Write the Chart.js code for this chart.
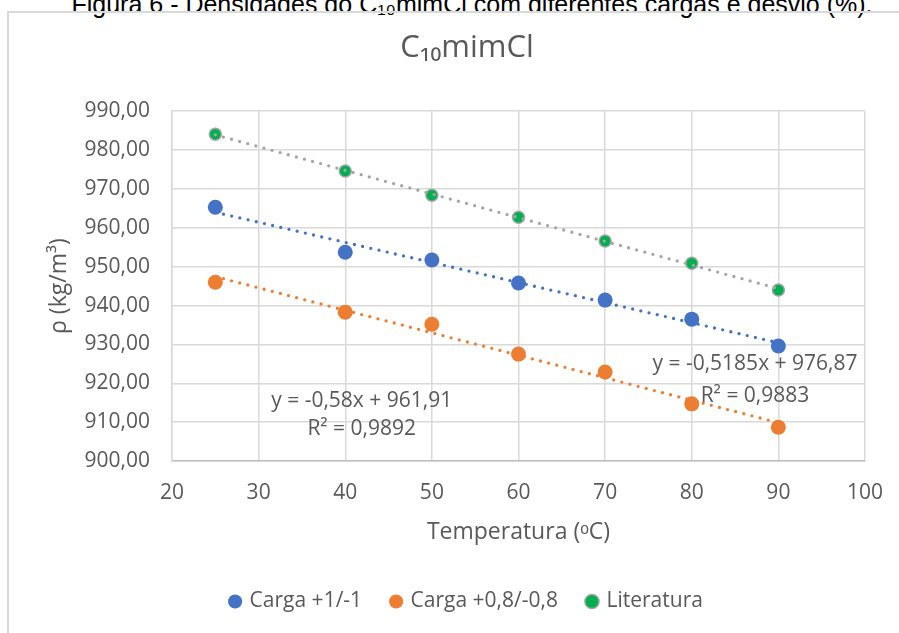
<!DOCTYPE html>
<html lang="pt">
<head>
<meta charset="utf-8">
<title>C10mimCl</title>
<script src="https://cdn.jsdelivr.net/npm/chart.js@4"></script>
<style>
  html, body { margin: 0; padding: 0; background: #fff; overflow: hidden; width: 899px; height: 633px; }
  #caption {
    position: absolute; left: 0; width: 944px; top: -8px;
    font: 25px "Liberation Sans", Arial, sans-serif; line-height: 25px;
    color: #000; text-align: center; white-space: nowrap;
  }
  #frame {
    position: absolute; left: 7px; top: 11px; width: 960px; height: 700px;
    border-left: 2px solid #d9d9d9; border-top: 2px solid #d9d9d9;
  }
  #holder { position: absolute; left: 8px; top: 12px; width: 916px; height: 640px; }
</style>
</head>
<body>
<div id="caption">Figura 6 - Densidades do C₁₀mimCl com diferentes cargas e desvio (%).</div>
<div id="frame"></div>
<div id="holder"><canvas id="chart"></canvas></div>
<script>
// Temperatura (ºC)
const temps = [25, 40, 50, 60, 70, 80, 90];
// densidades (kg/m3)
const carga1 = [965.3, 953.7, 951.7, 945.8, 941.4, 936.5, 929.6];
const carga08 = [946.0, 938.3, 935.2, 927.5, 922.9, 914.7, 908.7];
const literatura = [984.1, 974.6, 968.4, 962.7, 956.6, 950.9, 944.0];

const seriesNames = ['Carga +1/-1', 'Carga +0,8/-0,8', 'Literatura'];
const blueEq = ['y = -0,5185x + 976,87', 'R² = 0,9883'];
const orangeEq = ['y = -0,58x + 961,91', 'R² = 0,9892'];

const xTicks = [20, 30, 40, 50, 60, 70, 80, 90, 100];
const yTicks = [900, 910, 920, 930, 940, 950, 960, 970, 980, 990];

const textColor = '#595959';
const gridColor = '#d9d9d9';

function pts(ys) {
  return temps.map((t, i) => ({x: t, y: ys[i]}));
}

// linear trendline (least squares), like Excel
function trend(ys) {
  const n = temps.length;
  let sx = 0, sy = 0, sxy = 0, sxx = 0;
  for (let i = 0; i < n; i++) {
    sx += temps[i]; sy += ys[i]; sxy += temps[i] * ys[i]; sxx += temps[i] * temps[i];
  }
  const b = (n * sxy - sx * sy) / (n * sxx - sx * sx);
  const a = (sy - b * sx) / n;
  const x0 = temps[0], x1 = temps[n - 1];
  return [{x: x0, y: a + b * x0}, {x: x1, y: a + b * x1}];
}

function trendSet(ys, color) {
  return {
    label: 'trend',
    data: trend(ys),
    showLine: true,
    borderColor: color,
    borderWidth: 3.3,
    borderDash: [0, 8.4],
    borderCapStyle: 'round',
    pointRadius: 0,
    pointHoverRadius: 0,
    fill: false,
    order: 0
  };
}

// equation labels, anchored in data coordinates
const eqLabels = [
  {lines: blueEq, x: 87.3, y: [924.9, 916.7]},
  {lines: orangeEq, x: 41.9, y: [915.4, 908.2]}
];

const eqPlugin = {
  id: 'eqLabels',
  afterDatasetsDraw(chart) {
    const ctx = chart.ctx;
    const xs = chart.scales.x, ys = chart.scales.y;
    ctx.save();
    ctx.font = '21px "Open Sans", sans-serif';
    ctx.fillStyle = textColor;
    ctx.textAlign = 'center';
    ctx.textBaseline = 'middle';
    eqLabels.forEach(l => {
      l.lines.forEach((t, i) => {
        ctx.fillText(t, xs.getPixelForValue(l.x), ys.getPixelForValue(l.y[i]));
      });
    });
    ctx.restore();
  }
};

Chart.defaults.font.family = '"Open Sans", sans-serif';
Chart.defaults.color = textColor;

new Chart(document.getElementById('chart'), {
  type: 'scatter',
  data: {
    datasets: [
      {label: seriesNames[0], data: pts(carga1), backgroundColor: '#4472c4', borderColor: '#4472c4',
       pointRadius: 7.5, borderWidth: 0, order: 1},
      {label: seriesNames[1], data: pts(carga08), backgroundColor: '#ed7d31', borderColor: '#ed7d31',
       pointRadius: 7.5, borderWidth: 0, order: 1},
      {label: seriesNames[2], data: pts(literatura), backgroundColor: '#00b050', borderColor: '#a5a5a5',
       pointRadius: 6, borderWidth: 1.5, order: 1},
      trendSet(carga1, '#4472c4'),
      trendSet(carga08, '#ed7d31'),
      trendSet(literatura, '#a5a5a5')
    ]
  },
  options: {
    responsive: true,
    maintainAspectRatio: false,
    animation: false,
    layout: {padding: {top: 0, left: 61, right: 59, bottom: 30}},
    plugins: {
      title: {
        display: true,
        text: 'C₁₀mimCl',
        color: textColor,
        font: {size: 31, weight: 'normal'},
        padding: {top: 18, bottom: 44}
      },
      legend: {
        position: 'bottom',
        labels: {
          usePointStyle: true,
          pointStyle: 'circle',
          boxHeight: 10,
          boxWidth: 8,
          padding: 30,
          font: {size: 21},
          color: textColor,
          filter: item => item.text !== 'trend'
        }
      },
      tooltip: {enabled: false}
    },
    scales: {
      x: {
        type: 'linear',
        min: 20, max: 100,
        afterBuildTicks: s => { s.ticks = xTicks.map(v => ({value: v})); },
        afterFit: s => { s.height = 100; },
        ticks: {font: {size: 21}, color: textColor, padding: 19},
        grid: {color: gridColor, lineWidth: 1.5, drawTicks: false},
        border: {color: '#bfbfbf', width: 1.5},
        title: {display: true, text: 'Temperatura (ᵒC)', font: {size: 23}, color: textColor,
                padding: {top: 0, bottom: 15}}
      },
      y: {
        min: 900, max: 990,
        afterBuildTicks: s => { s.ticks = yTicks.map(v => ({value: v})); },
        afterFit: s => { s.width = 103; },
        ticks: {font: {size: 21}, color: textColor, padding: 22,
                callback: v => v.toFixed(2).replace('.', ',')},
        grid: {color: gridColor, lineWidth: 1.5, drawTicks: false},
        border: {color: gridColor, width: 1.5},
        title: {display: true, text: 'ρ (kg/m³)', font: {size: 23}, color: textColor,
                padding: {top: -23, bottom: 0}}
      }
    }
  },
  plugins: [eqPlugin]
});
</script>
</body>
</html>
